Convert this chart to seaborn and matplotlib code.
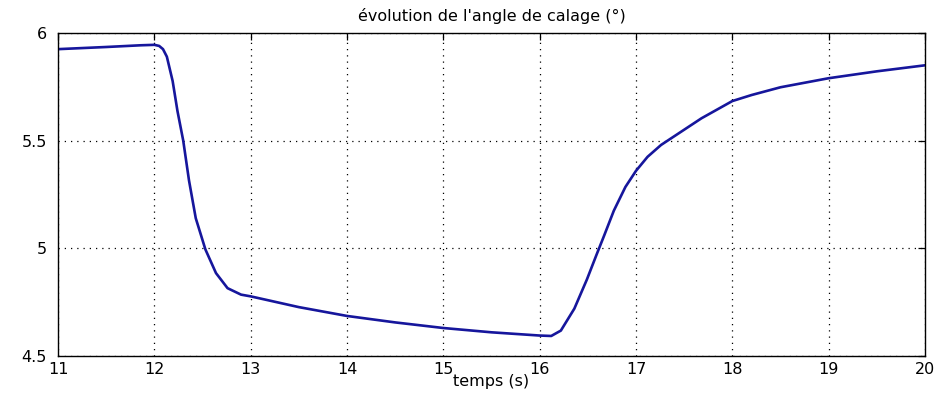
import matplotlib
matplotlib.use("Agg")
import matplotlib.pyplot as plt
import seaborn as sns
import pandas as pd

time_s = [11, 11.5, 11.86, 12.0, 12.05, 12.09, 12.13, 12.19, 12.24, 12.30, 12.36, 12.43, 12.53, 12.64,
          12.76, 12.90, 13.0, 13.5, 14, 14.5, 15, 15.5, 16, 16.12, 16.22, 16.36, 16.49, 16.59,
          16.67, 16.77, 16.89, 17.0, 17.12, 17.26, 17.47, 17.68, 18, 18.2, 18.5, 19, 19.5, 20]
angle_deg = [5.925, 5.935, 5.943, 5.945, 5.94, 5.925, 5.89, 5.777, 5.638, 5.5, 5.315, 5.14, 4.995, 4.885,
             4.815, 4.785, 4.777, 4.727, 4.686, 4.656, 4.63, 4.61, 4.595, 4.593, 4.618, 4.72, 4.855, 4.97,
             5.06, 5.175, 5.285, 5.36, 5.425, 5.48, 5.542, 5.604, 5.684, 5.712, 5.748, 5.79, 5.822, 5.85]
x_ticks = [11, 12, 13, 14, 15, 16, 17, 18, 19, 20]
y_ticks = [4.5, 5, 5.5, 6]
y_tick_labels = ["4.5", "5", "5.5", "6"]

df = pd.DataFrame({"temps": time_s, "angle": angle_deg})

sns.set_theme(style="white")
plt.rcParams['font.family'] = ['DejaVu Sans']

fig = plt.figure(figsize=(9.4, 3.94), dpi=100)
ax = fig.add_axes([58 / 940, 38 / 394, (925 - 58) / 940, (356 - 33) / 394])

sns.lineplot(data=df, x="temps", y="angle", ax=ax, color="#16169c", linewidth=1.9)

ax.set_xlim(11, 20)
ax.set_ylim(4.5, 6)
ax.set_xticks(x_ticks)
ax.set_xticklabels([str(t) for t in x_ticks])
ax.set_yticks(y_ticks)
ax.set_yticklabels(y_tick_labels)

ax.grid(True, color="black", linestyle=(0, (1, 4)), linewidth=0.9)
for s in ax.spines.values():
    s.set_visible(True)
    s.set_color("black")
    s.set_linewidth(1.0)
ax.tick_params(direction="in", length=5, width=0.9, top=True, right=True,
               labelsize=11.5, colors="black")
ax.tick_params(axis="x", pad=4)
ax.tick_params(axis="y", pad=8)

ax.set_xlabel("temps (s)", fontsize=11.5, color="black", labelpad=-2)
ax.set_ylabel("")
ax.set_title("évolution de l'angle de calage (°)", fontsize=11.5, color="black", pad=9)

fig.savefig("out.png", dpi=100, facecolor="white")
